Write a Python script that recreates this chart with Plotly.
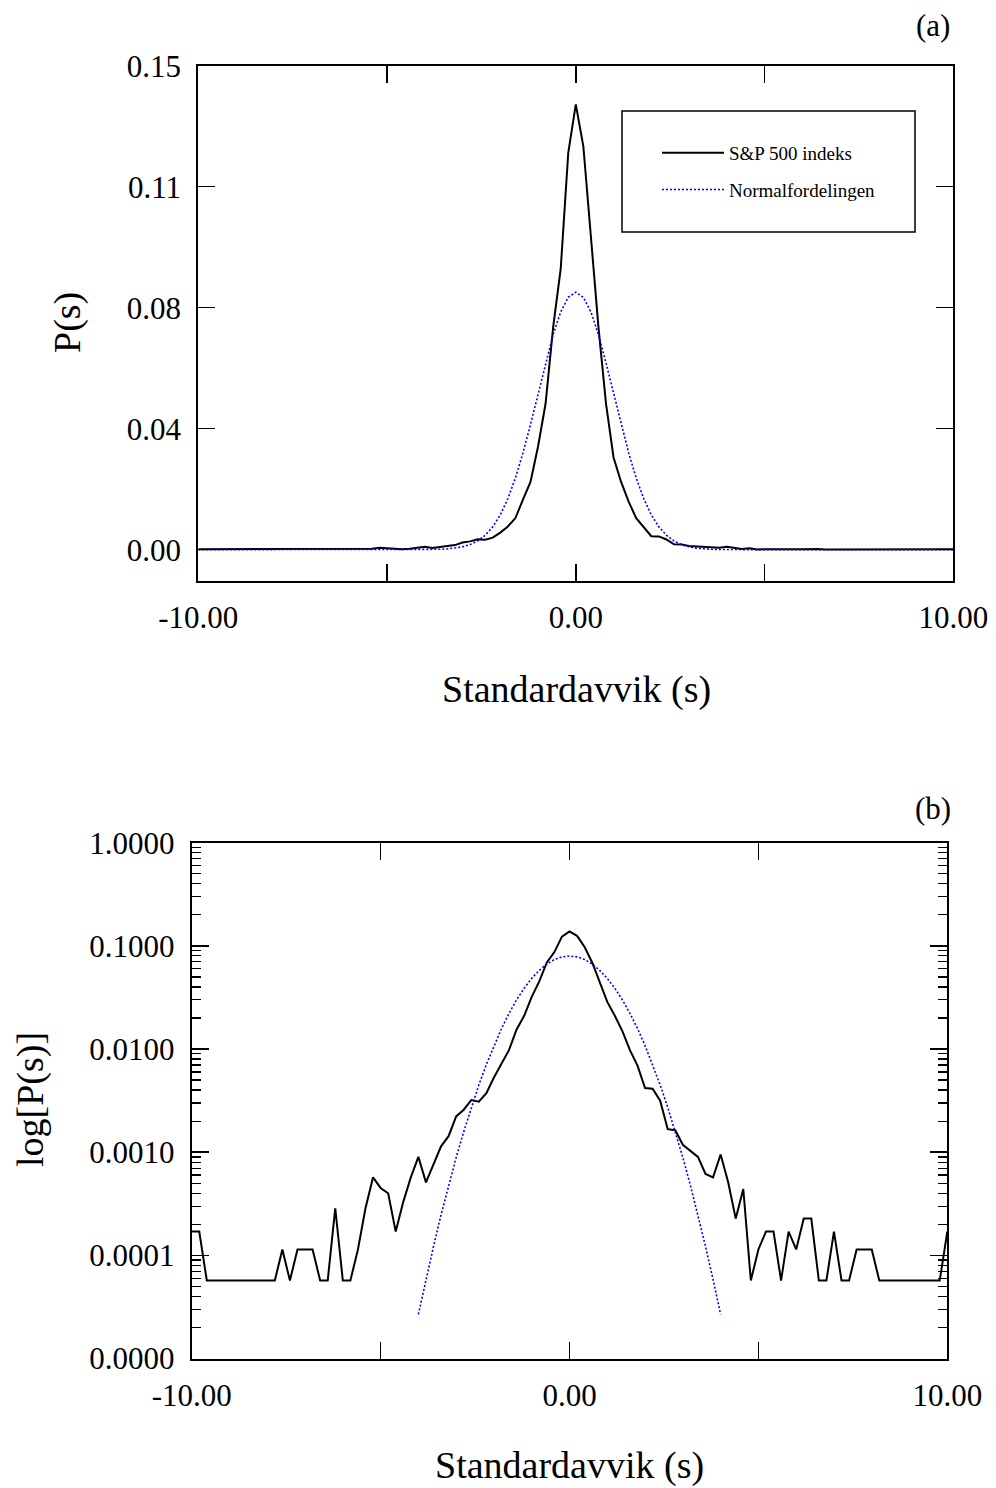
import plotly.graph_objects as go

# ---------------- data ----------------
s_grid = [-10.0, -9.8, -9.6, -9.4, -9.2, -9.0, -8.8, -8.6, -8.4, -8.2,
          -8.0, -7.8, -7.6, -7.4, -7.2, -7.0, -6.8, -6.6, -6.4, -6.2,
          -6.0, -5.8, -5.6, -5.4, -5.2, -5.0, -4.8, -4.6, -4.4, -4.2,
          -4.0, -3.8, -3.6, -3.4, -3.2, -3.0, -2.8, -2.6, -2.4, -2.2,
          -2.0, -1.8, -1.6, -1.4, -1.2, -1.0, -0.8, -0.6, -0.4, -0.2,
          0.0, 0.2, 0.4, 0.6, 0.8, 1.0, 1.2, 1.4, 1.6, 1.8,
          2.0, 2.2, 2.4, 2.6, 2.8, 3.0, 3.2, 3.4, 3.6, 3.8,
          4.0, 4.2, 4.4, 4.6, 4.8, 5.0, 5.2, 5.4, 5.6, 5.8,
          6.0, 6.2, 6.4, 6.6, 6.8, 7.0, 7.2, 7.4, 7.6, 7.8,
          8.0, 8.2, 8.4, 8.6, 8.8, 9.0, 9.2, 9.4, 9.6, 9.8,
          10.0]

sp500_p = [0.00017, 0.00017, 0.000057, 0.000057, 0.000057, 0.000057, 0.000057, 0.000057, 0.000057, 0.000057,
           0.000057, 0.000057, 0.000114, 0.000057, 0.000114, 0.000114, 0.000114, 0.000057, 0.000057, 0.000286,
           0.000057, 0.000057, 0.000114, 0.000286, 0.00057, 0.00045, 0.0004, 0.00017, 0.00033, 0.00057,
           0.0009, 0.00051, 0.00075, 0.00114, 0.00143, 0.00222, 0.00258, 0.0032, 0.00309, 0.00374,
           0.0053, 0.0072, 0.0098, 0.0155, 0.021, 0.032, 0.0453, 0.069, 0.087, 0.123,
           0.138, 0.125, 0.0976, 0.069, 0.0453, 0.0286, 0.021, 0.0149, 0.00976, 0.0069,
           0.00419, 0.00413, 0.00316, 0.00167, 0.00163, 0.00118, 0.00103, 0.0009, 0.000615, 0.00057,
           0.00095, 0.00051, 0.000227, 0.00044, 0.000057, 0.000114, 0.00017, 0.00017, 0.000057, 0.00017,
           0.000114, 0.000227, 0.000227, 0.000057, 0.000057, 0.00017, 0.000057, 0.000057, 0.000114, 0.000114,
           0.000114, 0.000057, 0.000057, 0.000057, 0.000057, 0.000057, 0.000057, 0.000057, 0.000057, 0.000057,
           0.00017]

normal_p = [0, 0, 0, 0, 0, 0, 0, 0, 0, 0,
            0, 0, 0, 0, 0, 0, 0, 0, 0, 0,
            0, 0, 0, 0, 0, 0, 0, 0, 0, 0,
            0.0000268, 0.0000584, 0.000122, 0.000247, 0.000477, 0.000887, 0.00158, 0.00272, 0.00448, 0.00709,
            0.0108, 0.0158, 0.0222, 0.0300, 0.0388, 0.0484, 0.0579, 0.0667, 0.0737, 0.0782,
            0.0798, 0.0782, 0.0737, 0.0667, 0.0579, 0.0484, 0.0388, 0.0300, 0.0222, 0.0158,
            0.0108, 0.00709, 0.00448, 0.00272, 0.00158, 0.000887, 0.000477, 0.000247, 0.000122, 0.0000584,
            0.0000268, 0, 0, 0, 0, 0, 0, 0, 0, 0,
            0, 0, 0, 0, 0, 0, 0, 0, 0, 0,
            0, 0, 0, 0, 0, 0, 0, 0, 0, 0,
            0]

x_tickvals = [-10, -5, 0, 5, 10]
x_ticktext = ["-10.00", "", "0.00", "", "10.00"]
lin_tickvals = [0.0, 0.0375, 0.075, 0.1125, 0.15]
lin_ticktext = ["0.00", "0.04", "0.08", "0.11", "0.15"]
log_tickvals = [1e-5, 1e-4, 1e-3, 1e-2, 1e-1, 1.0]
log_ticktext = ["0.0000", "0.0001", "0.0010", "0.0100", "0.1000", "1.0000"]
log_minorvals = [k * 10.0 ** e for e in range(-5, 0) for k in range(2, 10)]

series_names = ["S&P 500 indeks", "Normalfordelingen"]

# ---------------- figure ----------------
FONT = "Liberation Serif, Times New Roman, serif"
W, H = 996, 1488          # page body margin is removed below, so figure == window

def px_x(v):
    return v / W

def px_y(v):
    return 1 - v / H

fig = go.Figure()

sp_line = dict(color="black", width=2)
nm_line = dict(color="#0000ff", width=1.6, dash="2px,2px")

fig.add_trace(go.Scatter(x=s_grid, y=sp500_p, mode="lines", name=series_names[0],
                         line=sp_line, xaxis="x", yaxis="y", legendgroup="g1"))
fig.add_trace(go.Scatter(x=s_grid, y=normal_p, mode="lines", name=series_names[1],
                         line=nm_line, xaxis="x", yaxis="y", legendgroup="g2"))

nx = [s for s, p in zip(s_grid, normal_p) if p > 0]
ny = [p for p in normal_p if p > 0]
fig.add_trace(go.Scatter(x=s_grid, y=sp500_p, mode="lines", name=series_names[0],
                         line=sp_line, xaxis="x2", yaxis="y2", showlegend=False))
fig.add_trace(go.Scatter(x=nx, y=ny, mode="lines", name=series_names[1],
                         line=nm_line, xaxis="x2", yaxis="y2", showlegend=False))

axis_common = dict(
    showline=True, linewidth=2, linecolor="black", mirror="ticks",
    ticks="inside", ticklen=17, tickwidth=1.5, tickcolor="black",
    showgrid=False, zeroline=False, automargin=False,
    tickfont=dict(family=FONT, size=31, color="black"),
)

fig.update_layout(
    width=W, height=H,
    margin=dict(l=0, r=0, t=0, b=0, autoexpand=False),
    paper_bgcolor="white", plot_bgcolor="white",
    font=dict(family=FONT, color="black"),
    xaxis=dict(domain=[px_x(198.3), px_x(953.3)], anchor="y", range=[-10, 10],
               tickvals=x_tickvals, ticktext=x_ticktext, ticklabelstandoff=8,
               ticklabeloverflow="allow", **axis_common),
    yaxis=dict(domain=[px_y(581), px_y(65.7)], anchor="x", range=[-0.0097, 0.15],
               tickvals=lin_tickvals, ticktext=lin_ticktext, ticklabelstandoff=9, **axis_common),
    xaxis2=dict(domain=[px_x(191.7), px_x(947.3)], anchor="y2", range=[-10, 10],
                tickvals=x_tickvals, ticktext=x_ticktext, ticklabelstandoff=8,
                ticklabeloverflow="allow", **axis_common),
    yaxis2=dict(domain=[px_y(1358.5), px_y(842.7)], anchor="x2", type="log", range=[-5, 0],
                tickvals=log_tickvals, ticktext=log_ticktext, ticklabelstandoff=9,
                minor=dict(ticks="inside", ticklen=9, tickwidth=1.2, tickcolor="black",
                           tickvals=log_minorvals, showgrid=False),
                **axis_common),
    legend=dict(x=px_x(657), y=px_y(134), xanchor="left", yanchor="top",
                borderwidth=0, bgcolor="rgba(0,0,0,0)",
                font=dict(family=FONT, size=19, color="black"),
                itemwidth=62, traceorder="grouped", tracegroupgap=9),
    showlegend=True,
)

# legend frame
fig.add_shape(type="rect", xref="paper", yref="paper",
              x0=px_x(622), x1=px_x(915), y0=px_y(232), y1=px_y(111),
              line=dict(color="black", width=1.5), fillcolor="rgba(0,0,0,0)", layer="above")

ann_font = dict(family=FONT, size=38, color="black")
fig.add_annotation(text="P(s)", x=px_x(68), y=px_y(323), xref="paper", yref="paper",
                   textangle=-90, showarrow=False, font=ann_font, xanchor="center", yanchor="middle")
fig.add_annotation(text="log[P(s)]", x=px_x(30), y=px_y(1100), xref="paper", yref="paper",
                   textangle=-90, showarrow=False, font=ann_font, xanchor="center", yanchor="middle")
fig.add_annotation(text="Standardavvik (s)", x=px_x(576), y=px_y(690), xref="paper", yref="paper",
                   showarrow=False, font=ann_font, xanchor="center", yanchor="middle")
fig.add_annotation(text="Standardavvik (s)", x=px_x(569), y=px_y(1465), xref="paper", yref="paper",
                   showarrow=False, font=ann_font, xanchor="center", yanchor="middle")
fig.add_annotation(text="(a)", x=px_x(933), y=px_y(25), xref="paper", yref="paper",
                   showarrow=False, font=dict(family=FONT, size=31, color="black"),
                   xanchor="center", yanchor="middle")
fig.add_annotation(text="(b)", x=px_x(933), y=px_y(808), xref="paper", yref="paper",
                   showarrow=False, font=dict(family=FONT, size=31, color="black"),
                   xanchor="center", yanchor="middle")

fig.write_html(
    "out.html",
    config={"displayModeBar": False, "staticPlot": True},
    post_script="document.body.style.margin='0px';document.body.style.padding='0px';"
                "document.body.style.overflow='hidden';",
)
